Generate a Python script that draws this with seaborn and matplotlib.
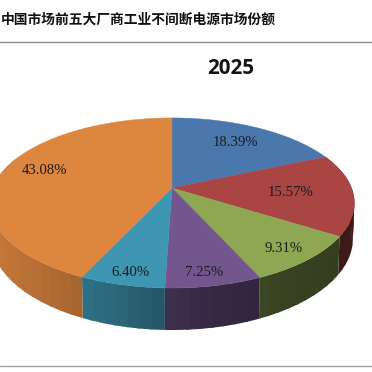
import numpy as np
import matplotlib.pyplot as plt
import seaborn as sns

# market shares, clockwise from the top
shares = [18.39, 15.57, 9.31, 7.25, 6.40, 43.08]
share_labels = ['18.39%', '15.57%', '9.31%', '7.25%', '6.40%', '43.08%']
chart_title = '中国市场前五大厂商工业不间断电源市场份额'
year = '2025'

colors = sns.color_palette(['#4a78ad', '#a94543', '#8ea753', '#74568f', '#3f96b2', '#dc863f'])

# text anchors in pixels
label_x = [235, 291, 284, 204, 130, 45]
label_y = [143, 193, 249, 273, 272, 171]

# pie geometry in pixels
cx, cy = 172, 188
k = 0.176
a = 179.5
b = 82.4
depth = 42


def project(theta, r=1.0):
    # theta clockwise from top, perspective squeeze on the far side
    u = r * np.sin(theta)
    v = r * np.cos(theta)
    w = 1 + k * v
    return cx + a * u / w, cy - b * v / w, w


sns.set_theme(style='white')
plt.rcParams['font.family'] = ['Noto Sans CJK SC', 'DejaVu Sans']

fig = plt.figure(figsize=(3.72, 3.72), dpi=100)
ax = fig.add_axes([0, 0, 1, 1])
ax.set_xlim(0, 372)
ax.set_ylim(372, 0)
ax.axis('off')

edges = np.cumsum([0] + shares) / 100 * 2 * np.pi

# side wall first, strips overlap a little so no seams show
for i in range(len(shares)):
    steps = np.linspace(edges[i], edges[i + 1], int(shares[i]) + 2)
    for t0, t1 in zip(steps[:-1], steps[1:]):
        end = min(t1 + 0.015, edges[i + 1])
        tt = np.linspace(t0, end, 4)
        x, y, w = project(tt)
        if np.all(np.cos(tt) > 0.35):
            continue
        yb = y + depth * (1 - k) / w
        xb = cx + (x - cx) * 0.992
        # wall gets darker towards the right
        shade = np.interp((x.mean() - cx) / a, [-1, -0.35, 0.1, 0.6, 1], [0.9, 0.7, 0.5, 0.4, 0.36])
        c = np.array(colors[i]) * shade
        ax.fill(np.r_[x, xb[::-1]], np.r_[y, yb[::-1]], color=c, lw=0, zorder=1 + i * 0.01)

# top surface
for i in range(len(shares)):
    tt = np.linspace(edges[i], edges[i + 1], 120)
    x, y, w = project(tt)
    ax.fill(np.r_[cx, x], np.r_[cy, y], color=colors[i], lw=0.3, zorder=2)

for i in range(len(shares)):
    ax.text(label_x[i], label_y[i], share_labels[i], family='Liberation Serif', fontsize=10.6,
            color='#1c1c1c', ha='center', va='center', zorder=3)

ax.axhline(41.5, color='#8c8c8c', lw=1.0)
ax.axhline(366, color='#a0a0a0', lw=1.0)

ax.text(1, 20, chart_title, fontsize=9.9, fontweight='bold', color='#111111', ha='left', va='center')
ax.text(231, 69, year, family='Open Sans', fontsize=14.8, fontweight='bold', color='#141414',
        ha='center', va='center')

plt.savefig('out.png', dpi=100)
